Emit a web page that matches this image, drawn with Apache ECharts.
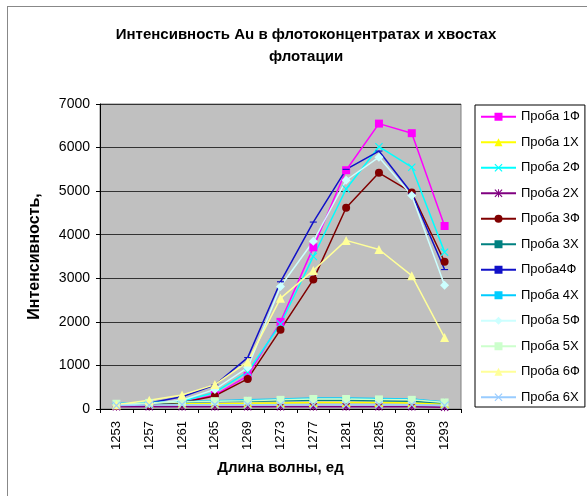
<!DOCTYPE html>
<html>
<head>
<meta charset="utf-8">
<script src="https://cdn.jsdelivr.net/npm/echarts@6/dist/echarts.min.js"></script>
<style>
  html, body { margin: 0; padding: 0; background: #fff; }
  #chart { width: 587px; height: 496px; }
</style>
</head>
<body>
<div id="chart"></div>
<script>
// Wavelength categories
const wavelengths = ['1253', '1257', '1261', '1265', '1269', '1273', '1277', '1281', '1285', '1289', '1293'];

// Intensity per sample (Ф — flotation concentrate, Х — tailings)
const proba1F = [80, 100, 150, 320, 760, 2000, 3710, 5480, 6550, 6330, 4200];
const proba1X = [100, 120, 120, 120, 130, 140, 150, 150, 150, 140, 120];
const proba2F = [100, 110, 180, 380, 850, 1950, 3500, 5050, 6020, 5550, 3600];
const proba2X = [50, 50, 50, 50, 50, 50, 50, 50, 50, 50, 40];
const proba3F = [80, 100, 150, 300, 690, 1820, 2970, 4620, 5420, 4970, 3380];
const proba3X = [100, 130, 150, 170, 180, 190, 200, 200, 190, 180, 140];
const proba4F = [80, 140, 280, 550, 1180, 2920, 4290, 5500, 5920, 4950, 3200];
const proba4X = [130, 150, 170, 190, 210, 230, 250, 250, 240, 230, 160];
const proba5F = [90, 120, 200, 450, 950, 2810, 3850, 5250, 5780, 4900, 2840];
const proba5X = [120, 140, 160, 180, 190, 210, 230, 230, 220, 210, 150];
const proba6F = [100, 200, 320, 560, 1080, 2540, 3180, 3870, 3660, 3060, 1640];
const proba6X = [80, 90, 100, 100, 100, 100, 100, 100, 100, 100, 80];

const yTicks = { min: 0, max: 7000, step: 1000 };

// Filled marker outlines (so they render without a stroke)
const crossPath = 'path://M0,1L1,0L5,4L9,0L10,1L6,5L10,9L9,10L5,6L1,10L0,9L4,5Z';
const starPath = 'path://M0,1L1,0L5,4L9,0L10,1L6,5L10,9L9,10L5,6L1,10L0,9L4,5Z M4.4,0L5.6,0L5.6,10L4.4,10Z';
const tickPath = 'path://M0,0L1.5,0L1.5,9L0,9Z';
const dashPath = 'path://M0,0L8,0L8,3L0,3Z';

function line(name, data, color, symbol, size) {
  return {
    name: name,
    type: 'line',
    data: data,
    symbol: symbol,
    symbolSize: size,
    symbolKeepAspect: true,
    lineStyle: { color: color, width: 1.5 },
    itemStyle: { color: color, borderWidth: 0 },
    emphasis: { disabled: true },
    animation: false
  };
}

const series = [
  line('Проба 1Ф', proba1F, '#FF00FF', 'rect', 8),
  line('Проба 1Х', proba1X, '#FFFF00', 'triangle', 9),
  line('Проба 2Ф', proba2F, '#00FFFF', crossPath, 8),
  line('Проба 2Х', proba2X, '#800080', starPath, 8),
  line('Проба 3Ф', proba3F, '#800000', 'circle', 8),
  line('Проба 3Х', proba3X, '#008080', tickPath, [1.5, 9]),
  line('Проба4Ф', proba4F, '#1010C8', dashPath, [7, 3]),
  line('Проба 4Х', proba4X, '#00CCFF', dashPath, [9, 3]),
  line('Проба 5Ф', proba5F, '#CCFFFF', 'diamond', 9),
  line('Проба 5Х', proba5X, '#CCFFCC', 'rect', 8),
  line('Проба 6Ф', proba6F, '#FFFF99', 'triangle', 9),
  line('Проба 6Х', proba6X, '#99CCFF', crossPath, 8)
];

const chart = echarts.init(document.getElementById('chart'), null, { renderer: 'canvas' });
chart.setOption({
  backgroundColor: '#ffffff',
  animation: false,
  textStyle: { fontFamily: 'Liberation Sans, Arial, sans-serif' },
  title: {
    text: 'Интенсивность Au в флотоконцентратах и хвостах\nфлотации',
    left: 301,
    top: 19,
    textAlign: 'center',
    textStyle: { fontSize: 15, fontWeight: 'bold', color: '#000', lineHeight: 22 }
  },
  graphic: [
    { type: 'line', shape: { x1: 7, y1: 6.5, x2: 587, y2: 6.5 }, style: { stroke: '#888', lineWidth: 1 } },
    { type: 'line', shape: { x1: 7.5, y1: 6, x2: 7.5, y2: 496 }, style: { stroke: '#888', lineWidth: 1 } }
  ],
  legend: {
    orient: 'vertical',
    left: 475,
    top: 105,
    padding: [4, 5, 2, 5],
    itemWidth: 35,
    itemHeight: 10,
    itemGap: 10,
    borderColor: '#000',
    borderWidth: 1,
    textStyle: { fontSize: 13, color: '#000', lineHeight: 15.5 },
    data: series.map(s => s.name)
  },
  grid: { left: 100, right: 126, top: 104, bottom: 87, show: true, backgroundColor: '#C0C0C0', borderColor: '#808080', borderWidth: 1 },
  xAxis: {
    type: 'category',
    data: wavelengths,
    boundaryGap: true,
    name: 'Длина волны, ед',
    nameLocation: 'middle',
    nameGap: 51,
    nameTextStyle: { fontSize: 15, fontWeight: 'bold', color: '#000' },
    axisLine: { lineStyle: { color: '#000', width: 1 } },
    axisTick: { show: true, length: 4, lineStyle: { color: '#000' } },
    axisLabel: { rotate: 90, fontSize: 13, color: '#000', margin: 12 },
    splitLine: { show: false }
  },
  yAxis: {
    type: 'value',
    min: yTicks.min,
    max: yTicks.max,
    interval: yTicks.step,
    name: 'Интенсивность,',
    nameLocation: 'middle',
    nameGap: 57,
    nameTextStyle: { fontSize: 16, fontWeight: 'bold', color: '#000' },
    axisLine: { show: true, lineStyle: { color: '#000', width: 1 } },
    axisTick: { show: true, length: 4, lineStyle: { color: '#000' } },
    axisLabel: { fontSize: 14, color: '#000', margin: 10, formatter: v => String(v) },
    splitLine: { show: true, lineStyle: { color: '#333', width: 1 } }
  },
  series: series
});
</script>
</body>
</html>
